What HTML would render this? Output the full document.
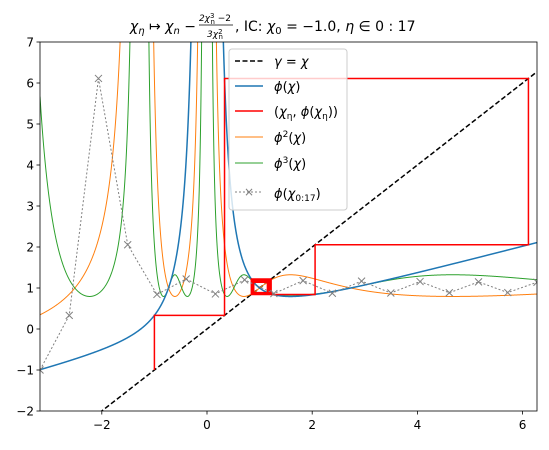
<!DOCTYPE html>
<html><head><meta charset="utf-8"><style>
body{margin:0;background:#fff;width:549px;height:445px;overflow:hidden}
svg text{font-family:"DejaVu Sans","Liberation Sans",sans-serif}
</style></head><body>
<svg id="chart" width="549" height="445" xmlns="http://www.w3.org/2000/svg">
<defs><clipPath id="pc"><rect x="40" y="42" width="497" height="369"/></clipPath></defs>
<rect x="0" y="0" width="549" height="445" fill="#fff"/>
<g id="plot" clip-path="url(#pc)"></g>
<rect x="40" y="42" width="497" height="369" fill="none" stroke="#000" stroke-width="0.8"/>
<g id="axes"></g>
<g>
<text x="196" y="31" text-anchor="end" font-size="14"><tspan font-style="italic">χ</tspan><tspan font-size="10" font-style="italic" dy="3">η</tspan><tspan dy="-3"> ↦ </tspan><tspan font-style="italic">χ</tspan><tspan font-size="10" font-style="italic" dy="3">n</tspan><tspan dy="-3"> −</tspan></text>
<text x="215" y="21" text-anchor="middle" font-size="9"><tspan font-style="italic">2χ</tspan><tspan font-size="7" dy="-3">3</tspan><tspan font-size="7" dx="-4" dy="6">n</tspan><tspan dy="-3"> −2</tspan></text>
<line x1="199" y1="25" x2="233" y2="25" stroke="#000" stroke-width="0.7"/>
<text x="215" y="37" text-anchor="middle" font-size="9"><tspan font-style="italic">3χ</tspan><tspan font-size="7" dy="-3">2</tspan><tspan font-size="7" dx="-4" dy="5">n</tspan></text>
<text x="235" y="31" font-size="14">, IC: <tspan font-style="italic">χ</tspan><tspan font-size="10" dy="3">0</tspan><tspan dy="-3"> = −1.0, </tspan><tspan font-style="italic">η</tspan> ∈ 0 : 17</text>
</g>
<g id="legend">
<rect x="229" y="49" width="118" height="161" rx="3" fill="#fff" fill-opacity="0.8" stroke="#ccc"/>
<line x1="235" y1="61" x2="263" y2="61" stroke="#000" stroke-width="1.5" stroke-dasharray="5,2.5"/>
<text x="274" y="66" font-size="13"><tspan font-style="italic">γ</tspan> = <tspan font-style="italic">χ</tspan></text>
<line x1="235" y1="86" x2="263" y2="86" stroke="#1f77b4" stroke-width="1.5"/>
<text x="274" y="91" font-size="13"><tspan font-style="italic">ϕ</tspan>(<tspan font-style="italic">χ</tspan>)</text>
<line x1="235" y1="111" x2="263" y2="111" stroke="red" stroke-width="1.5"/>
<text x="274" y="116" font-size="13">(<tspan font-style="italic">χ</tspan><tspan font-size="9" dy="3">η</tspan><tspan dy="-3">, </tspan><tspan font-style="italic">ϕ</tspan>(<tspan font-style="italic">χ</tspan><tspan font-size="9" dy="3">η</tspan><tspan dy="-3">))</tspan></text>
<line x1="235" y1="137" x2="263" y2="137" stroke="#ff7f0e" stroke-width="1"/>
<text x="274" y="142" font-size="13"><tspan font-style="italic">ϕ</tspan><tspan font-size="9" dy="-5">2</tspan><tspan dy="5">(</tspan><tspan font-style="italic">χ</tspan>)</text>
<line x1="235" y1="163" x2="263" y2="163" stroke="#2ca02c" stroke-width="1"/>
<text x="274" y="168" font-size="13"><tspan font-style="italic">ϕ</tspan><tspan font-size="9" dy="-5">3</tspan><tspan dy="5">(</tspan><tspan font-style="italic">χ</tspan>)</text>
<line x1="235" y1="192" x2="263" y2="192" stroke="gray" stroke-width="1" stroke-dasharray="2,2"/>
<text x="249" y="196" font-size="12" fill="gray" text-anchor="middle">×</text>
<text x="274" y="198" font-size="13"><tspan font-style="italic">ϕ</tspan>(<tspan font-style="italic">χ</tspan><tspan font-size="9" dy="3">0:17</tspan><tspan dy="-3">)</tspan></text>
</g>
</svg>
<script>
const xTicks=[-2,0,2,4,6];
const yTicks=[-2,-1,0,1,2,3,4,5,6,7];
const chi=[-1,0.3333,6.1111,2.0549,0.8429,1.2194,0.8548,1.1973,0.8641,1.1808,0.8717,1.1679,0.8781,1.1574,0.8835,1.1486,0.8882,1.1412];
const xMin=-3.175,xMax=6.274,yMin=-2,yMax=7;
const L=40,R=537,T=42,B=411;
const px=x=>L+(x-xMin)/(xMax-xMin)*(R-L);
const py=y=>B-(y-yMin)/(yMax-yMin)*(B-T);
const NS="http://www.w3.org/2000/svg";
const plot=document.getElementById('plot'),axes=document.getElementById('axes');
function mk(tag,attrs,parent){const e=document.createElementNS(NS,tag);for(const k in attrs)e.setAttribute(k,attrs[k]);parent.appendChild(e);return e;}
const phi=x=>x/3+2/(3*x*x);
function curve(f,color,w,name){
  let d='',pen=false;const N=3000;
  for(let i=0;i<=N;i++){const x=xMin+(xMax-xMin)*i/N;let y=f(x);
    if(!isFinite(y)||Math.abs(y)>60){pen=false;continue;}
    d+=(pen?'L':'M')+px(x).toFixed(2)+','+py(y).toFixed(2);pen=true;}
  const p=mk('path',{d:d,fill:'none',stroke:color,'stroke-width':w},plot);
  
  
}
const dl=mk('line',{x1:px(xMin),y1:py(xMin),x2:px(xMax),y2:py(xMax),stroke:'#000','stroke-width':1.5,'stroke-dasharray':'5,2.5'},plot);


curve(x=>phi(phi(x)),'#ff7f0e',1,'phi2-curve');
curve(x=>phi(phi(phi(x))),'#2ca02c',1,'phi3-curve');
curve(phi,'#1f77b4',1.5,'phi-curve');
let cd='M'+px(chi[0])+','+py(chi[0]);
for(let i=0;i<chi.length-1;i++){cd+='L'+px(chi[i])+','+py(chi[i+1])+'L'+px(chi[i+1])+','+py(chi[i+1]);}
const cw=mk('path',{d:cd,fill:'none',stroke:'red','stroke-width':1.5},plot);


let gd='';
chi.forEach((v,i)=>{const x=xMin+(xMax-xMin)*i/(chi.length-1);gd+=(i?'L':'M')+px(x)+','+py(v);});
const gl=mk('path',{d:gd,fill:'none',stroke:'gray','stroke-width':1,'stroke-dasharray':'2,2'},plot);


chi.forEach((v,i)=>{const x=px(xMin+(xMax-xMin)*i/(chi.length-1)),y=py(v);
  const m=mk('path',{d:`M${x-3.5},${y-3.5}L${x+3.5},${y+3.5}M${x-3.5},${y+3.5}L${x+3.5},${y-3.5}`,stroke:'gray','stroke-width':1},plot);
  
  
});
xTicks.forEach(t=>{const x=px(t);
  mk('line',{x1:x,y1:B,x2:x,y2:B+3.5,stroke:'#000','stroke-width':0.8},axes);
  const tx=mk('text',{x:x,y:B+18,'text-anchor':'middle','font-size':12},axes);
  tx.textContent=t<0?'−'+(-t):String(t);
  
  
});
yTicks.forEach(t=>{const y=py(t);
  mk('line',{x1:L-3.5,y1:y,x2:L,y2:y,stroke:'#000','stroke-width':0.8},axes);
  const tx=mk('text',{x:L-6,y:y+4.5,'text-anchor':'end','font-size':12},axes);
  tx.textContent=t<0?'−'+(-t):String(t);
  
  
});
</script>
</body></html>
